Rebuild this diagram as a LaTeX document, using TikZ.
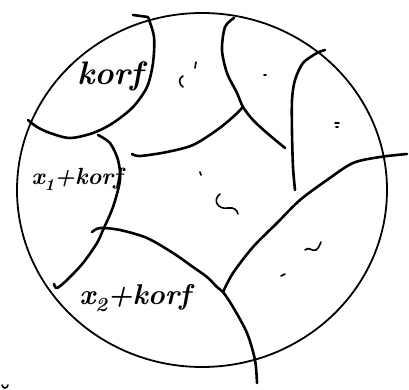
\documentclass[tikz,border=0pt]{standalone}
\usepackage{tikz}
\tikzset{
  rim/.style={line width=1.8pt},
  pen/.style={line width=2.6pt, line cap=round, line join=round},
  scrib/.style={line width=1.6pt, line cap=round},
  lbl/.style={font=\fontsize{26}{26}\selectfont\bfseries\itshape, inner sep=0pt}
}
\newcommand{\lowidx}[1]{\raisebox{-0.25em}{\scalebox{0.7}{#1}}}
\begin{document}
\begin{tikzpicture}[x=1pt,y=-1pt]
  \useasboundingbox (0,0) rectangle (409,390);
  % outer circle
  \draw[rim] (202,190) ellipse [x radius=185, y radius=177];
  % region borders
  \draw[pen] (133,15) -- (148,17) plot[smooth] coordinates {(148,17) (154,37) (153,63) (147,87) (133,107) (113,123) (93,133) (70,138) (50,133) (37,127) (28,120)};
  \draw[pen] plot[smooth] coordinates {(98,135) (110,143) (118,160) (120,180) (113,207) (103,230) (97,243) (83,263) (67,280) (57,288) (54,284)};
  \draw[pen] plot[smooth] coordinates {(92,232) (100,228) (120,230) (147,238) (173,253) (193,267) (207,277) (217,287) (223,292) (233,307) (247,333) (255,360) (257,383)};
  \draw[pen] plot[smooth] coordinates {(223,292) (233,273) (253,247) (277,223) (300,200) (327,180) (353,163) (380,157) (407,154)};
  \draw[pen] plot[smooth] coordinates {(132,154) (140,156) (167,152) (193,145) (217,130) (233,117) (243,107)};
  \draw[pen] plot[smooth] coordinates {(234,18) (225,27) (222,50) (227,73) (237,93) (243,107) (253,120) (267,133) (285,148)};
  \draw[pen] plot[smooth] coordinates {(325,50) (317,53) (303,63) (295,80) (292,100) (292,133) (293,167) (295,190)};
  % scribbles
  \draw[scrib] (183,76) .. controls (178,78) and (179,85) .. (183,87);
  \draw[scrib] (196,62) -- (195,68);
  \draw[scrib] (264,75) -- (266,75);
  \draw[scrib] (335,123) -- (339,123);
  \draw[scrib] (336,127) -- (338,127);
  \draw[scrib] (200,172) -- (201,175);
  \draw[scrib] (220,194) .. controls (212,200) and (218,210) .. (228,208) .. controls (234,207) and (237,210) .. (238,214);
  \draw[scrib] (305,250) .. controls (309,246) and (312,252) .. (316,250) .. controls (319,248) and (320,244) .. (321,242);
  \draw[scrib] (281,276) -- (285,274);
  \draw[scrib] (2,385) .. controls (3,389) and (7,389) .. (8,385);
  % labels
  \node[lbl, scale=1.25] (r0) at (110,76) {korf};
  \node[lbl, scale=0.9] (r1) at (77,179) {x\lowidx{1}+korf};
  \node[lbl, scale=1.1] (r2) at (135,298) {x\lowidx{2}+korf};
\end{tikzpicture}
\end{document}
